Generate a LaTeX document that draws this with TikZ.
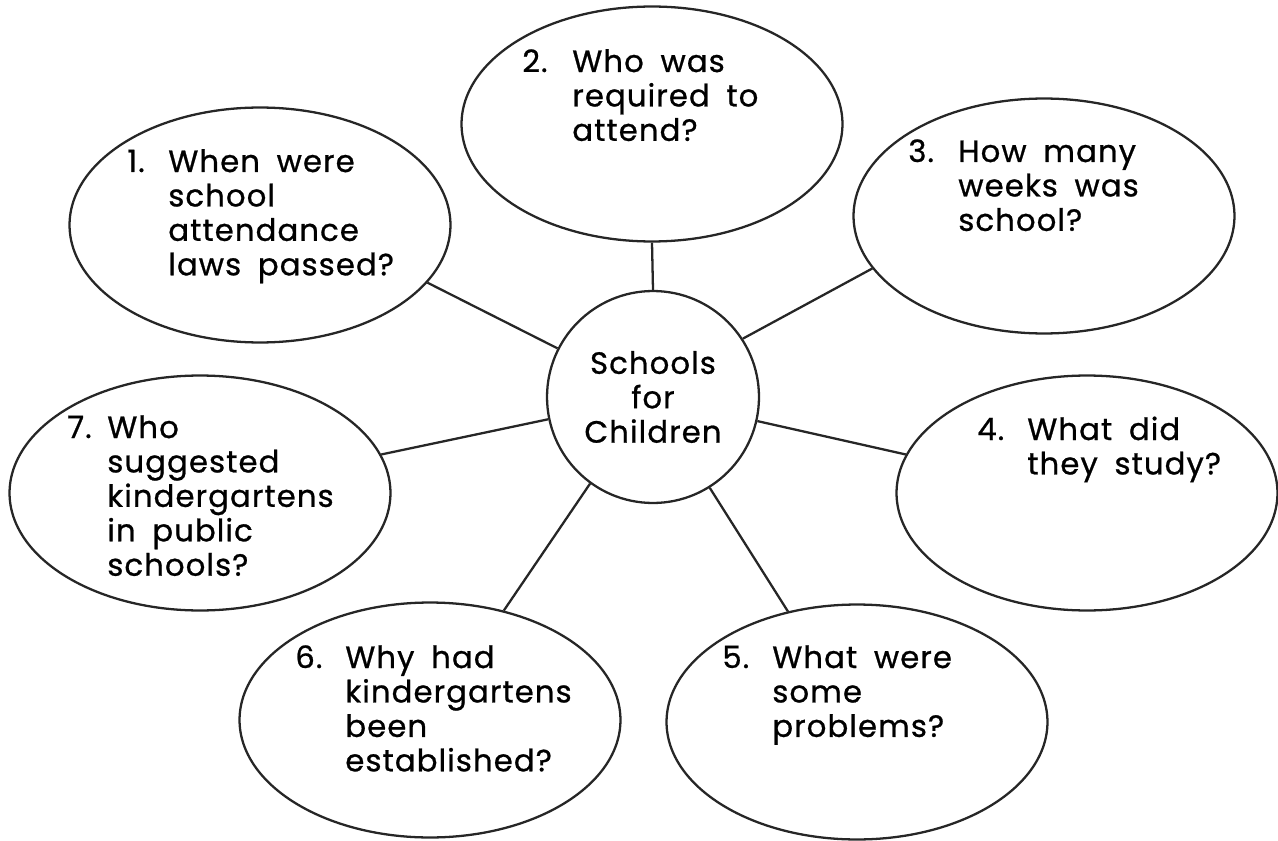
\documentclass[tikz,border=0pt]{standalone}
\usepackage{fontspec}
\setmainfont{Poppins}[LetterSpace=3.5, WordSpace=1.8, FakeBold=0.8]
\usetikzlibrary{shapes.geometric}

\newcommand{\qtext}[3][1.0cm]{\makebox[#1][l]{#2}\begin{tabular}[t]{@{}l@{}}#3\end{tabular}}

\begin{document}
\begin{tikzpicture}[x=0.02cm, y=-0.02cm,
ovalnode/.style={ellipse, draw=black!85, line width=1.3pt, minimum width=7.62cm, minimum height=4.7cm},
hubnode/.style={circle, draw=black!85, line width=1.3pt, minimum size=4.24cm, align=center, font=\fontsize{17.5}{19.6}\selectfont},
textnode/.style={anchor=base west, inner sep=0pt, font=\fontsize{17.5}{19.6}\selectfont},
spoke/.style={draw=black!85, line width=1.3pt},
]
\useasboundingbox (0,0) rectangle (1278,841);

%Nodes
\node[hubnode]  (hub) at (653,397) {Schools\\for\\Children};
\node[ovalnode] (q1)  at (260,225) {};
\node[ovalnode] (q2)  at (652,124) {};
\node[ovalnode] (q3)  at (1044,216) {};
\node[ovalnode] (q4)  at (1087,493) {};
\node[ovalnode] (q5)  at (857,722) {};
\node[ovalnode] (q6)  at (430,720) {};
\node[ovalnode] (q7)  at (200,493) {};

%Texts
\node[textnode] (t1) at (127,172) {\qtext[0.82cm]{1.}{When were\\school\\attendance\\laws passed?}};
\node[textnode] (t2) at (522,72)  {\qtext{2.}{Who was\\required to\\attend?}};
\node[textnode] (t3) at (908,162) {\qtext{3.}{How many\\weeks was\\school?}};
\node[textnode] (t4) at (977,440) {\qtext{4.}{What did\\they study?}};
\node[textnode] (t5) at (722,668) {\qtext{5.}{What were\\some\\problems?}};
\node[textnode] (t6) at (295,668) {\qtext{6.}{Why had\\kindergartens\\been\\established?}};
\node[textnode] (t7) at (67,438)  {\qtext[0.8cm]{7.}{Who\\suggested\\kindergartens\\in public\\schools?}};

%Lines
\draw[spoke] (hub.153.4) -- (q1.-19.7);
\draw[spoke] (hub.90) -- (q2.-90);
\draw[spoke] (hub.33.7) -- (q3.197);
\draw[spoke] (hub.-13.4) -- (q4.168.8);
\draw[spoke] (hub.-58.5) -- (q5.122.5);
\draw[spoke] (hub.234.4) -- (q6.56.4);
\draw[spoke] (hub.192.2) -- (q7.12);
\end{tikzpicture}
\end{document}
